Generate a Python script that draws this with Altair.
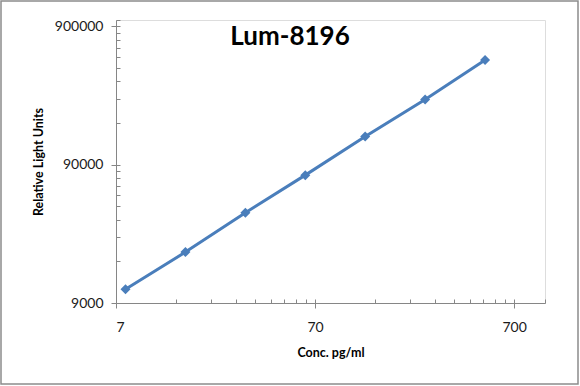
import altair as alt
import pandas as pd

conc = [7.8125, 15.625, 31.25, 62.5, 125, 250, 500]
rlu = [11300, 21000, 40500, 75600, 144000, 266000, 513000]

x_major = [7, 70, 700]
x_minor = [14, 21, 28, 35, 42, 49, 56, 63, 70,
           140, 210, 280, 350, 420, 490, 560, 630, 700, 1000]
y_major = [9000, 90000, 900000]
y_minor = [18000, 27000, 36000, 45000, 54000, 63000, 72000, 81000, 90000,
           180000, 270000, 360000, 450000, 540000, 630000, 720000, 810000, 900000, 1000000]
title_text = ["Lum-8196"]

df = pd.DataFrame({"conc": conc, "rlu": rlu})

W, H = 429, 283
PL, PT, PR, PB = 116, 20, 35, 83
FONT = "Lato"
AX = "#868686"
BLUE = "#4A7EBB"

xs = alt.Scale(type="log", domain=[7, 1000], nice=False)
ys = alt.Scale(type="log", domain=[9000, 1000000], nice=False)

base = alt.Chart(df)

line = base.mark_line(color=BLUE, strokeWidth=3).encode(
    x=alt.X("conc:Q", scale=xs,
            axis=alt.Axis(orient="bottom", values=x_major, format="d", grid=False,
                          tickSize=5, tickColor=AX, domainColor=AX, labelPadding=12,
                          labelFont=FONT, labelFontSize=14, labelColor="#1a1a1a",
                          title="Conc. pg/ml", titleFont=FONT, titleFontSize=12.5,
                          titleFontWeight="bold", titleColor="#000000", titlePadding=12)),
    y=alt.Y("rlu:Q", scale=ys,
            axis=alt.Axis(orient="left", values=y_major, format="d", grid=False,
                          tickSize=5, tickColor=AX, domainColor=AX, labelPadding=8,
                          labelFont=FONT, labelFontSize=14, labelColor="#1a1a1a",
                          title="Relative Light Units", titleFont=FONT, titleFontSize=12.5,
                          titleFontWeight="bold", titleColor="#000000", titlePadding=9)),
)

pts = base.mark_point(shape="diamond", filled=True, size=100, color=BLUE, opacity=1).encode(
    x=alt.X("conc:Q", scale=xs, axis=None),
    y=alt.Y("rlu:Q", scale=ys, axis=None),
)

minor = base.mark_point(opacity=0).encode(
    x=alt.X("conc:Q", scale=xs,
            axis=alt.Axis(orient="bottom", values=x_minor, offset=-4, tickSize=4,
                          domain=False, labels=False, grid=False, title=None, tickColor=AX)),
    y=alt.Y("rlu:Q", scale=ys,
            axis=alt.Axis(orient="left", values=y_minor, offset=-4, tickSize=4,
                          domain=False, labels=False, grid=False, title=None, tickColor=AX)),
)

frame = alt.Chart(pd.DataFrame({"a": [0]})).mark_rect(
    fill=None, stroke="#8c8c8c", strokeWidth=1.5
).encode(
    x=alt.value(-PL + 1), x2=alt.value(W + PR - 2),
    y=alt.value(-PT + 1), y2=alt.value(H + PB - 2),
)

title = alt.Chart(pd.DataFrame({"t": title_text})).mark_text(
    font=FONT, fontSize=26, fontWeight="bold", color="#000000",
    align="center", baseline="alphabetic"
).encode(text="t:N", x=alt.value(174), y=alt.value(25))

chart = alt.layer(line, pts, minor, frame, title).resolve_axis(
    x="independent", y="independent"
).properties(
    width=W, height=H,
    autosize=alt.AutoSizeParams(type="none"),
    padding={"left": PL, "top": PT, "right": PR, "bottom": PB},
).configure_view(stroke=None).configure(background="white")

chart.save("out.html", embed_options={"renderer": "svg", "actions": False})
